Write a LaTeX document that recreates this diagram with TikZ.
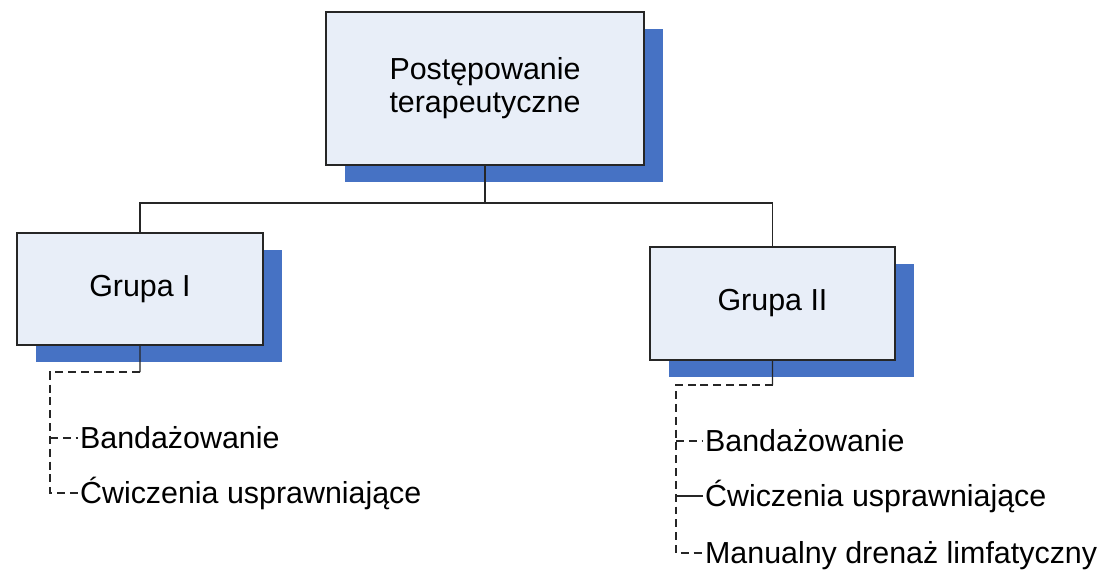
\documentclass[tikz,border=0pt]{standalone}
\usepackage{fontspec}
\setmainfont{Liberation Sans}
\usetikzlibrary{positioning, shadows}
\definecolor{boxfill}{RGB}{232,238,248}
\definecolor{shadowblue}{RGB}{70,114,196}
\tikzstyle{group} = [rectangle, draw = black!85, line width=0.6pt, fill = boxfill, text centered, general shadow={fill=shadowblue, shadow xshift=0.37cm, shadow yshift=-0.34cm}]
\tikzstyle{item} = [anchor=west, inner sep=1pt, text height=12pt, text depth=0pt]
\tikzstyle{link} = [line width=0.6pt, black!85]
\tikzstyle{dashlink} = [link, dash pattern=on 4.5pt off 2.8pt]
\begin{document}
\begin{tikzpicture}[node distance=1.5cm, align=center, font=\fontsize{17.3}{18.7}\selectfont]
    \useasboundingbox (0,0) rectangle (22,-11.4);
    %prostokaty
    \node (top) [group, minimum width=6.36cm, minimum height=3.06cm] at (9.7,-1.77) {Postępowanie\\terapeutyczne};
    \node (g1) [group, minimum width=4.92cm, minimum height=2.24cm, below of = top, xshift = -6.9cm, yshift = -2.51cm] {Grupa I};
    \node (g2) [group, minimum width=4.9cm, minimum height=2.26cm, below of = top, xshift = 5.75cm, yshift = -2.8cm] {Grupa II};

    %elementy list
    \node (b1) [item] at (1.56,-8.76) {Bandażowanie};
    \node (c1) [item, below = 1.1cm of b1.west, anchor=west] {Ćwiczenia usprawniające};
    \node (b2) [item] at (14.06,-8.82) {Bandażowanie};
    \node (c2) [item, below = 1.1cm of b2.west, anchor=west] {Ćwiczenia usprawniające};
    \node (m2) [item, below = 1.14cm of c2.west, anchor=west] {Manualny drenaż limfatyczny};

    %polaczenia
    \coordinate (split) at (9.7,-4.06);
    \draw [link] (top.south) -- (split) -| (g1.north);
    \draw [link] (split) -| (g2.north);

    \coordinate (corner1) at (2.8,-7.44);
    \coordinate (rail1) at (1.0,-7.44);
    \draw [link] (g1.south) -- (corner1);
    \draw [dashlink] (corner1) -- (rail1) |- (c1.west);
    \draw [dashlink] (rail1 |- b1.west) -- (b1.west);

    \coordinate (corner2) at (15.45,-7.7);
    \coordinate (rail2) at (13.52,-7.7);
    \draw [link] (g2.south) -- (corner2);
    \draw [dashlink] (corner2) -- (rail2) |- (m2.west);
    \draw [dashlink] (rail2 |- b2.west) -- (b2.west);
    \draw [link] (rail2 |- c2.west) -- (c2.west);
\end{tikzpicture}
\end{document}
